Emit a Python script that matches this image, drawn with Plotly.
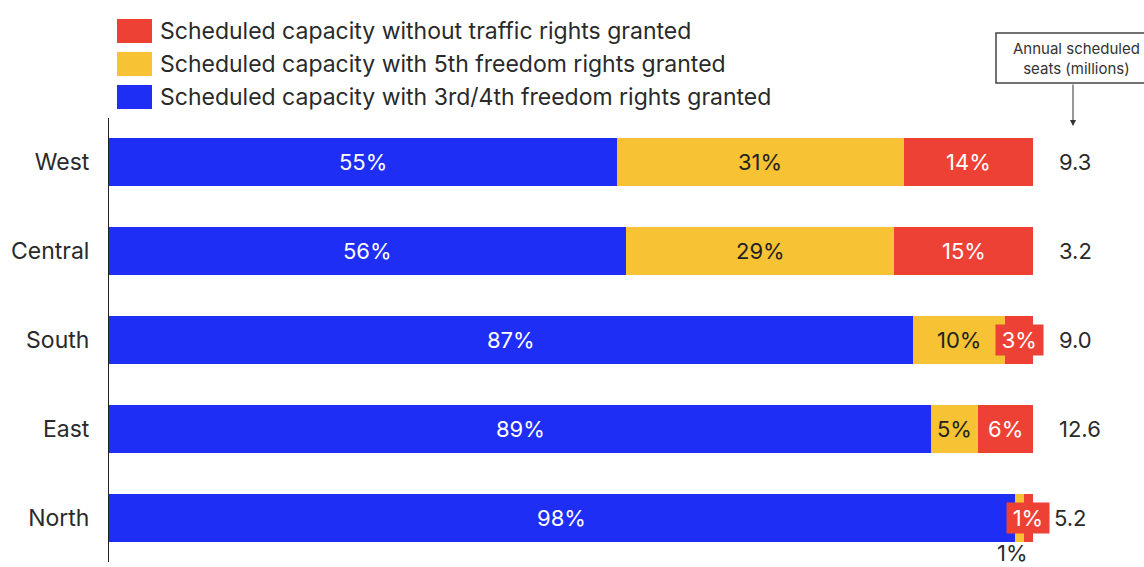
import plotly.graph_objects as go

regions = ["West", "Central", "South", "East", "North"]
third_fourth = [55, 56, 87, 89, 98]
fifth = [31, 29, 10, 5, 1]
no_rights = [14, 15, 3, 6, 1]
seats_millions = [9.3, 3.2, 9.0, 12.6, 5.2]

series_names = [
    "Scheduled capacity with 3rd/4th freedom rights granted",
    "Scheduled capacity with 5th freedom rights granted",
    "Scheduled capacity without traffic rights granted",
]
colors = ["#1F2EF5", "#F7C233", "#EE4136"]
text_colors = ["white", "#222222", "white"]

W, H = 1144, 567
L, R, T, B = 109, 111, 118, 5
pw, ph = W - L - R, H - T - B


def px_x(p):
    return (p - L) / pw


def px_y(p):
    return (H - B - p) / ph


FONT = "Inter, Roboto, Arial, sans-serif"
DARK = "#2a2a2a"
PAD = "\u2006"

fig = go.Figure()
series = [third_fourth, fifth, no_rights]
for name, vals, col in zip(series_names, series, colors):
    fig.add_trace(go.Bar(
        y=regions, x=vals, name=name, orientation="h",
        marker=dict(color=col, line=dict(width=0)),
        showlegend=False, hoverinfo="x+y",
    ))

annotations = []
for i, reg in enumerate(regions):
    start = 0
    for s, vals in enumerate(series):
        v = vals[i]
        mid = start + v / 2
        if v >= 4:
            annotations.append(dict(
                x=mid, y=reg, xref="x", yref="y", text=f"{v}%", showarrow=False,
                font=dict(size=22, color=text_colors[s], family=FONT)))
        elif s == 2:
            # narrow red segment: label on its own red tag
            annotations.append(dict(
                x=mid, y=reg, xref="x", yref="y", text=f"{PAD}{v}%{PAD}",
                showarrow=False, bgcolor=colors[2], borderpad=2,
                font=dict(size=22, color="white", family=FONT)))
        else:
            # narrow yellow segment: label below the bar
            annotations.append(dict(
                x=mid, y=reg, xref="x", yref="y", text=f"{v}%", showarrow=False,
                yshift=-35, xshift=-7,
                font=dict(size=22, color=DARK, family=FONT)))
        start += v
    # seats column, placed in paper space to the right of the bars
    annotations.append(dict(
        x=px_x(1057 if reg != "North" else 1052), y=reg, xref="paper", yref="y",
        text=f"{seats_millions[i]:.1f}", showarrow=False,
        xanchor="left", yanchor="middle",
        font=dict(size=22, color=DARK, family=FONT)))

# header box for the seats column
annotations.append(dict(
    x=px_x(1076), y=px_y(58), xref="paper", yref="paper",
    xanchor="center", yanchor="middle",
    text="Annual scheduled<br>seats (millions)", showarrow=False,
    font=dict(size=15, color="#333333", family=FONT)))
annotations.append(dict(
    x=px_x(1073), y=px_y(126), xref="paper", yref="paper", text="",
    showarrow=True, ax=0, ay=-43, arrowhead=2, arrowsize=1.2, arrowwidth=1,
    arrowcolor="#333333"))

shapes = [dict(
    type="rect", xref="paper", yref="paper",
    x0=px_x(996), x1=px_x(1160), y0=px_y(83), y1=px_y(33),
    line=dict(color="#444444", width=1.5), fillcolor="white", layer="below")]

# legend drawn as swatches + labels, red first
legend_rows = [(2, 31), (1, 64), (0, 97)]
for s, cy in legend_rows:
    shapes.append(dict(
        type="rect", xref="paper", yref="paper",
        x0=px_x(117), x1=px_x(152), y0=px_y(cy + 12), y1=px_y(cy - 12),
        fillcolor=colors[s], line=dict(width=0)))
    annotations.append(dict(
        x=px_x(158), y=px_y(cy), xref="paper", yref="paper",
        text=series_names[s], showarrow=False,
        xanchor="left", yanchor="middle",
        font=dict(size=23, color=DARK, family=FONT)))

fig.update_layout(
    barmode="stack", bargap=0.46,
    width=W, height=H,
    margin=dict(l=L, r=R, t=T, b=B),
    paper_bgcolor="white", plot_bgcolor="white",
    xaxis=dict(range=[0, 100], visible=False, fixedrange=True),
    yaxis=dict(
        categoryorder="array", categoryarray=regions, autorange="reversed",
        showline=True, linecolor="#222222", linewidth=1, ticks="",
        showgrid=False, ticklabelstandoff=14,
        tickfont=dict(size=23, color=DARK, family=FONT)),
    annotations=annotations, shapes=shapes,
    font=dict(family=FONT),
)

fig.write_html("out.html")
